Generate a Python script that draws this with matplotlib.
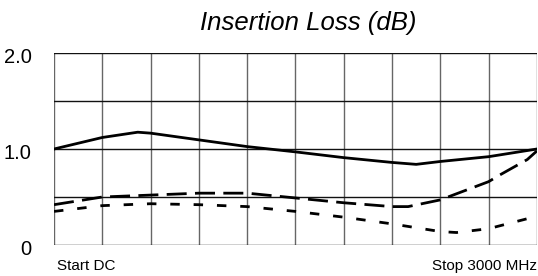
import matplotlib.pyplot as plt
from matplotlib.transforms import ScaledTranslation

# frequency in MHz, insertion loss in dB
freq_solid = [0, 300, 520, 600, 900, 1200, 1500, 1800, 2100, 2250, 2400, 2700, 3000]
loss_solid = [1.0, 1.12, 1.175, 1.165, 1.095, 1.025, 0.97, 0.91, 0.86, 0.84, 0.87, 0.92, 1.0]

freq_dash = [0, 300, 600, 900, 1200, 1500, 1800, 2100, 2200, 2400, 2700, 2770, 2940, 3000]
loss_dash = [0.42, 0.50, 0.52, 0.54, 0.54, 0.49, 0.44, 0.40, 0.40, 0.47, 0.66, 0.73, 0.89, 0.98]

freq_dot = [0, 300, 600, 900, 1200, 1500, 1800, 2100, 2400, 2500, 2700, 3000]
loss_dot = [0.35, 0.41, 0.43, 0.42, 0.40, 0.35, 0.29, 0.22, 0.14, 0.13, 0.17, 0.30]

x_grid = list(range(0, 3001, 300))
y_grid = [0, 0.5, 1.0, 1.5, 2.0]
y_labels = ["0", "", "1.0", "", "2.0"]

plt.rcParams["font.family"] = ["Liberation Sans", "DejaVu Sans"]

fig = plt.figure(figsize=(5.38, 2.76), dpi=100)
ax = fig.add_axes([0.1004, 0.1123, 0.8976, 0.6957])

# grid: vertical lines grey, horizontal lines black
for xv in x_grid:
    ax.axvline(xv, color="#666666", lw=1.0, zorder=1)
for yv in y_grid:
    ax.axhline(yv, color="#111111", lw=1.0, zorder=1)

ax.plot(freq_solid, loss_solid, color="black", lw=2.0, zorder=3)
ax.plot(freq_dash, loss_dash, color="black", lw=2.0, dashes=(7.2, 3.0), zorder=3)
ax.plot(freq_dot, loss_dot, color="black", lw=2.0, dashes=(3.4, 5.0), zorder=3)

ax.set_xlim(0, 3000)
ax.set_ylim(0, 2.0)
for s in ax.spines.values():
    s.set_visible(False)

ax.set_xticks([])
ax.set_yticks(y_grid)
ax.set_yticklabels(y_labels, fontsize=14.5)
ax.tick_params(axis="y", length=0, pad=16)
for lbl in ax.get_yticklabels():
    lbl.set_transform(lbl.get_transform() + ScaledTranslation(0, -1.5 / 72, fig.dpi_scale_trans))

ax.text(0.006, -0.075, "Start DC", transform=ax.transAxes, ha="left", va="top", fontsize=11)
ax.text(1.0, -0.075, "Stop 3000 MHz", transform=ax.transAxes, ha="right", va="top", fontsize=11)

fig.text(0.5725, 0.891, "Insertion Loss (dB)", ha="center", va="baseline",
         fontsize=18.5, style="italic")

fig.savefig("out.png", dpi=100)
